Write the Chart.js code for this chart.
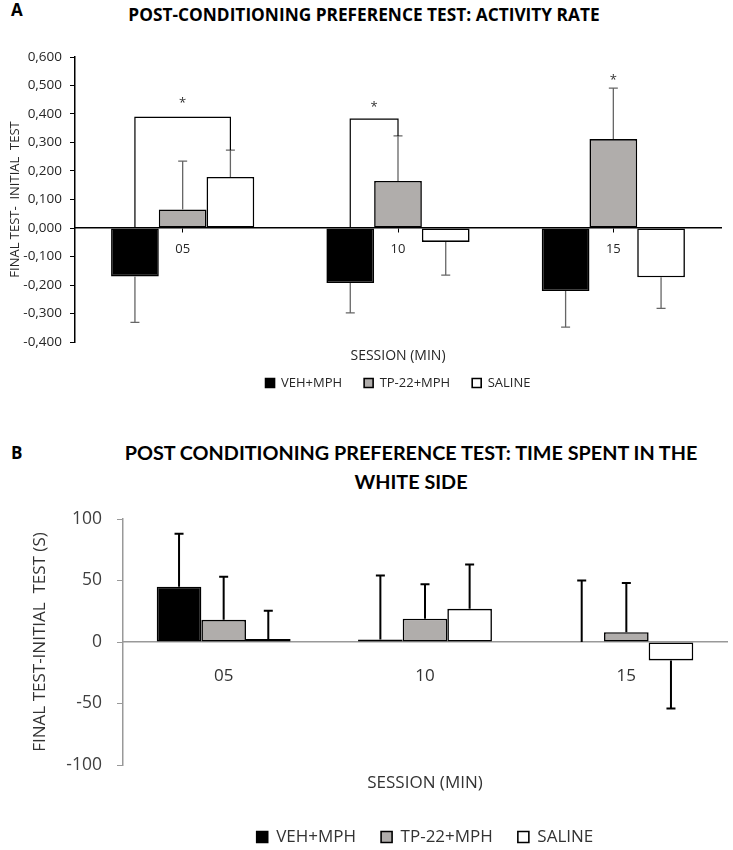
<!DOCTYPE html>
<html>
<head>
<meta charset="utf-8">
<script src="https://cdn.jsdelivr.net/npm/chart.js@4.4.1/dist/chart.umd.min.js"></script>
<style>
  html, body { margin: 0; padding: 0; background: #fff; }
  #page { position: relative; width: 733px; height: 850px; overflow: hidden; background: #fff; }
  .box { position: absolute; left: 0; width: 733px; }
  .letter { position: absolute; font: bold 17px "Open Sans", sans-serif; line-height: 20px; color: #000; }
  .title { position: absolute; transform: translateX(-50%); white-space: nowrap; text-align: center; color: #000; }
  #titleA { left: 364px; top: 5px; font: bold 17.3px "Open Sans", sans-serif; line-height: 20px; }
  #titleB { left: 411px; top: 438px; font: bold 19.8px Lato, sans-serif; line-height: 29px; }
</style>
</head>
<body>
<div id="page">
  <div class="letter" style="left:11px;top:0px">A</div>
  <div class="title" id="titleA">POST-CONDITIONING PREFERENCE TEST: ACTIVITY RATE</div>
  <div class="box" style="top:0;height:412px"><canvas id="chartA"></canvas></div>

  <div class="letter" style="left:11px;top:443px">B</div>
  <div class="title" id="titleB">POST CONDITIONING PREFERENCE TEST: TIME SPENT IN THE<br>WHITE SIDE</div>
  <div class="box" style="top:420px;height:440px"><canvas id="chartB"></canvas></div>
</div>
<script>
// sessions (minutes)
const sessions = ['05', '10', '15'];
const groupNames = ['VEH+MPH', 'TP-22+MPH', 'SALINE'];

// panel A: activity rate (final - initial), means and SEM
const vehA = [-0.170, -0.193, -0.221];
const vehAErr = [0.161, 0.105, 0.127];
const tpA = [0.065, 0.165, 0.312];
const tpAErr = [0.170, 0.158, 0.179];
const salA = [0.179, -0.049, -0.173];
const salAErr = [0.094, 0.116, 0.109];

// significance brackets for A: session index, the two groups, bracket height
const bracketCat = [0, 1];
const bracketFrom = [0, 0];
const bracketTo = [2, 1];
const bracketLevel = [0.388, 0.382];
// stars: session index, x taken from these groups, star height
const starCat = [0, 1, 2];
const starGroups = [[0, 2], [0, 1], [1]];
const starLevel = [0.449, 0.435, 0.530];

// panel B: time spent in white side (s), means and SEM
const vehB = [45, 2, 0];
const vehBErr = [43, 52, 50];
const tpB = [18, 19, 8];
const tpBErr = [35, 28, 40];
const salB = [2.5, 27, -15];
const salBErr = [23, 36, 39];

const colors = ['#000000', '#b0adab', '#ffffff'];

Chart.defaults.font.family = "'Open Sans', sans-serif";
Chart.defaults.animation = false;

// draws an error bar from each bar's end, away from zero
const errorBarPlugin = {
  id: 'errorBars',
  afterDatasetsDraw(chart, args, opts) {
    const ctx = chart.ctx;
    const y = chart.scales.y;
    ctx.save();
    ctx.strokeStyle = opts.color;
    ctx.lineWidth = opts.width;
    chart.data.datasets.forEach((ds, i) => {
      const meta = chart.getDatasetMeta(i);
      meta.data.forEach((bar, j) => {
        const v = ds.data[j];
        const e = ds.errors[j];
        const end = v >= 0 ? v + e : v - e;
        const y0 = y.getPixelForValue(v);
        const y1 = y.getPixelForValue(end);
        ctx.beginPath();
        ctx.moveTo(bar.x, y0);
        ctx.lineTo(bar.x, y1);
        ctx.moveTo(bar.x - opts.cap / 2, y1);
        ctx.lineTo(bar.x + opts.cap / 2, y1);
        ctx.stroke();
      });
    });
    ctx.restore();
  }
};

// brackets and stars, only used on panel A
const sigPlugin = {
  id: 'sig',
  afterDatasetsDraw(chart) {
    const ctx = chart.ctx;
    const y = chart.scales.y;
    const ds = chart.data.datasets;
    // bottom of a leg: bar end + error if positive, else the zero line
    const legEnd = (g, c) => {
      const v = ds[g].data[c];
      return v >= 0 ? v + ds[g].errors[c] : 0;
    };
    const barX = (g, c) => chart.getDatasetMeta(g).data[c].x;
    ctx.save();
    ctx.strokeStyle = '#000';
    ctx.lineWidth = 1.2;
    bracketCat.forEach((c, k) => {
      const a = bracketFrom[k], b = bracketTo[k];
      const yTop = y.getPixelForValue(bracketLevel[k]);
      ctx.beginPath();
      ctx.moveTo(barX(a, c), y.getPixelForValue(legEnd(a, c)));
      ctx.lineTo(barX(a, c), yTop);
      ctx.lineTo(barX(b, c), yTop);
      ctx.lineTo(barX(b, c), y.getPixelForValue(legEnd(b, c)));
      ctx.stroke();
    });
    ctx.fillStyle = '#333';
    ctx.font = "13px 'Open Sans', sans-serif";
    ctx.textAlign = 'center';
    ctx.textBaseline = 'middle';
    starCat.forEach((c, k) => {
      const xs = starGroups[k].map(g => barX(g, c));
      const x = xs.reduce((s, v) => s + v, 0) / xs.length;
      ctx.fillText('*', x, y.getPixelForValue(starLevel[k]) + 3);
    });
    ctx.restore();
  }
};

function makeSets(values, errors) {
  return values.map((v, i) => ({
    label: groupNames[i],
    data: v,
    errors: errors[i],
    backgroundColor: colors[i],
    borderColor: '#000',
    borderWidth: 1.6,
    borderSkipped: false
  }));
}

new Chart(document.getElementById('chartA'), {
  type: 'bar',
  data: {
    labels: sessions,
    datasets: makeSets([vehA, tpA, salA], [vehAErr, tpAErr, salAErr])
  },
  options: {
    responsive: true,
    maintainAspectRatio: false,
    layout: { padding: { top: 57, right: 12, bottom: 12.5, left: 0 } },
    datasets: { bar: { categoryPercentage: 0.665, barPercentage: 1 } },
    scales: {
      x: {
        position: { y: 0 },
        grid: { drawOnChartArea: false, offset: false, tickLength: 4, color: '#000' },
        border: { color: '#000', width: 1.5 },
        ticks: { padding: 9, color: '#262626', font: { size: 13 } },
        afterFit: s => { s.height = 0; }
      },
      y: {
        min: -0.4,
        max: 0.6,
        ticks: {
          stepSize: 0.1,
          padding: 8,
          color: '#262626',
          font: { size: 13.5 },
          callback: v => v.toFixed(3).replace('.', ',')
        },
        grid: { drawOnChartArea: false, tickLength: 5, color: '#000' },
        border: { color: '#000', width: 1.5 },
        title: {
          display: true,
          text: 'FINAL TEST-  INITIAL  TEST',
          color: '#262626',
          font: { size: 13 },
          padding: { top: 7, bottom: 0 }
        },
        afterFit: s => { s.width = 75; }
      }
    },
    plugins: {
      legend: {
        position: 'bottom',
        fullSize: false,
        labels: { boxWidth: 9, boxHeight: 9, padding: 22, color: '#262626', font: { size: 13 } }
      },
      subtitle: {
        display: true,
        text: 'SESSION (MIN)',
        position: 'bottom',
        fullSize: false,
        weight: 500,
        color: '#262626',
        font: { size: 14 },
        padding: { top: 5.6, bottom: -9.9 }
      },
      tooltip: { enabled: false },
      errorBars: { color: '#666', width: 1.3, cap: 9 }
    }
  },
  plugins: [errorBarPlugin, sigPlugin]
});

new Chart(document.getElementById('chartB'), {
  type: 'bar',
  data: {
    labels: sessions,
    datasets: makeSets([vehB, tpB, salB], [vehBErr, tpBErr, salBErr])
  },
  options: {
    responsive: true,
    maintainAspectRatio: false,
    layout: { padding: { top: 99, right: 6, bottom: 4.5, left: 0 } },
    datasets: { bar: { categoryPercentage: 0.665, barPercentage: 1 } },
    scales: {
      x: {
        position: { y: 0 },
        grid: { drawOnChartArea: false, drawTicks: false },
        border: { color: '#999', width: 1.5 },
        ticks: { padding: 24, color: '#333', font: { size: 17 } },
        afterFit: s => { s.height = 0; }
      },
      y: {
        min: -100,
        max: 100,
        ticks: { stepSize: 50, padding: 15, color: '#404040', font: { size: 17.5 } },
        grid: { drawOnChartArea: false, tickLength: 6, color: '#999' },
        border: { color: '#999', width: 1.5 },
        title: {
          display: true,
          text: 'FINAL TEST-INITIAL  TEST (S)',
          color: '#333',
          font: { size: 17 },
          padding: { top: 30, bottom: 0 }
        },
        afterFit: s => { s.width = 123; }
      }
    },
    plugins: {
      legend: {
        position: 'bottom',
        fullSize: false,
        labels: { boxWidth: 11, boxHeight: 11, padding: 25, color: '#333', font: { size: 17 } }
      },
      subtitle: {
        display: true,
        text: 'SESSION (MIN)',
        position: 'bottom',
        fullSize: false,
        weight: 500,
        color: '#333',
        font: { size: 17 },
        padding: { top: 7.8, bottom: 10.3 }
      },
      tooltip: { enabled: false },
      errorBars: { color: '#000', width: 2, cap: 9 }
    }
  },
  plugins: [errorBarPlugin]
});
</script>
</body>
</html>
